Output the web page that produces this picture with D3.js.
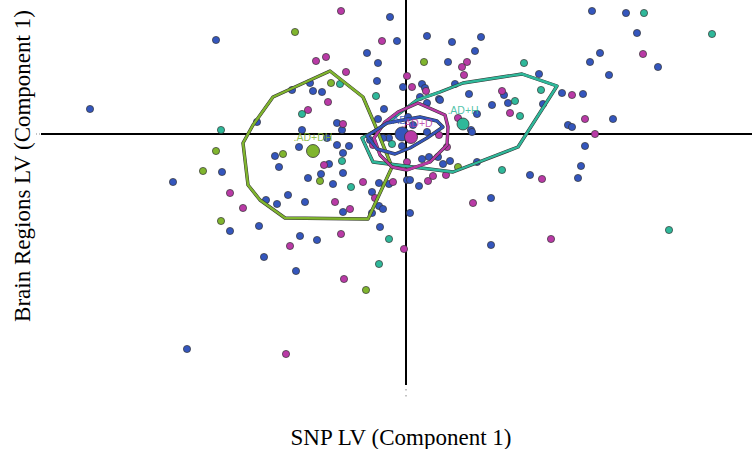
<!DOCTYPE html>
<html><head><meta charset="utf-8">
<script src="https://cdn.jsdelivr.net/npm/d3@7"></script>
<style>body{margin:0;background:#fff}svg{display:block}</style>
</head><body>
<svg id="c" width="752" height="449"></svg>
<script>
const groups = ["AD", "AD+D", "AD+H", "AD+DH"];
const colors = {"AD":"#3456bd","AD+D":"#b93aa6","AD+H":"#2fb89a","AD+DH":"#80b52e"};

const ptsAD = [[-3.16,0.25],[-1.90,0.94],[-0.16,1.17],[-0.09,0.93],[0.21,0.98],[0.46,0.92],[-0.39,0.81],[-0.28,0.71],[0.42,0.72],[-0.29,0.53],[-0.96,0.51],[-1.14,0.44],[-0.93,0.43],[-0.84,0.42],[-0.03,0.47],[0.16,0.50],[0.19,0.46],[0.14,0.37],[0.33,0.35],[0.49,0.50],[-0.22,0.25],[-1.49,0.12],[-0.69,0.11],[-1.04,0.04],[-0.28,0.15],[0.02,0.17],[0.07,0.09],[1.86,1.23],[2.20,1.21],[2.31,1.01],[0.75,0.97],[0.69,0.83],[1.94,0.81],[1.84,0.72],[2.52,0.67],[2.03,0.59],[1.33,0.60],[0.63,0.40],[0.98,0.39],[1.02,0.31],[0.86,0.29],[1.56,0.41],[1.77,0.40],[1.37,0.30],[0.71,0.20],[2.07,0.15],[1.62,0.09],[1.66,0.07],[0.34,0.34],[0.65,0.04],[1.79,-0.12],[1.75,-0.32],[1.72,-0.44],[1.24,-0.41],[0.85,-0.64],[0.85,-1.11],[0.71,-0.28],[0.44,-0.27],[0.37,-0.30],[-1.84,-0.38],[-2.33,-0.48],[-1.76,-0.97],[-1.47,-0.92],[-1.06,-1.02],[-0.89,-1.06],[-1.42,-1.23],[0.04,-0.79],[-1.07,-0.13],[-1.31,-0.22],[-1.27,-0.33],[-0.77,-0.30],[-0.63,-0.19],[-0.69,-0.11],[-0.57,-0.12],[-0.79,-0.04],[-0.85,-0.40],[-0.98,-0.44],[-0.63,-0.39],[-0.73,-0.50],[-0.27,-0.49],[-0.17,-0.50],[-0.34,-0.58],[-1.18,-0.61],[-1.40,-0.66],[-1.29,-0.70],[-1.01,-0.68],[-0.27,-0.72],[-0.23,-0.75],[-0.63,-0.78],[-0.34,-0.79],[-0.26,-0.93],[0.01,-0.46],[0.04,-0.46],[0.13,-0.52],[0.23,-0.23],[0.32,-0.23],[0.16,-0.25],[-1.10,-1.37],[-2.19,-2.15],[-0.64,0.04],[-0.17,-0.04],[-0.04,-0.12],[0.21,0.02],[0.66,0.02],[-0.36,-0.06],[-0.23,-0.04],[0.21,0.31]];
const ptsADD = [[-0.65,1.23],[-0.24,0.93],[-0.90,0.73],[-0.80,0.77],[-0.60,0.62],[0.01,0.58],[0.06,0.47],[0.20,0.43],[-0.78,0.32],[-0.98,0.24],[-0.63,0.10],[2.37,0.80],[0.61,0.72],[0.56,0.67],[0.58,0.59],[0.96,0.43],[1.66,0.39],[1.04,0.21],[1.79,0.15],[0.52,0.16],[1.89,0.00],[1.36,-0.45],[0.67,-0.69],[1.45,-1.05],[0.41,-0.13],[0.40,-0.41],[-1.76,-0.59],[-1.63,-0.74],[-0.65,-1.00],[-1.16,-1.12],[-0.02,-1.15],[-0.82,-0.31],[-0.43,-0.48],[-0.13,-0.48],[-0.71,-0.68],[-0.31,-0.64],[-0.56,-0.75],[0.22,-0.47],[0.27,-0.42],[-0.62,-1.45],[-1.20,-2.20],[0.01,-0.28],[0.33,-0.01],[-0.33,-0.11]];
const ptsADH = [[2.38,1.21],[3.06,1.00],[1.18,0.71],[1.35,0.44],[1.09,0.33],[1.14,0.18],[0.96,-0.36],[2.63,-0.96],[-0.66,0.50],[-0.30,0.38],[-1.04,0.20],[-1.85,0.04],[-0.64,-0.27],[-0.55,-0.53],[-0.17,-1.05],[-0.27,-1.30],[-0.14,-0.10]];
const ptsADDH = [[-1.11,1.02],[0.18,0.72],[-0.75,0.51],[-1.90,-0.17],[-2.03,-0.37],[-1.85,-0.87],[-1.23,-0.20],[-0.86,-0.47],[0.52,-0.33],[-0.40,-1.56]];

const hullAD = [[-0.39,-0.02],[-0.19,0.11],[0.14,0.17],[0.31,0.13],[0.37,0.07],[0.21,-0.04],[0.04,-0.14],[-0.11,-0.20],[-0.29,-0.15]];
const hullADD = [[-0.08,0.22],[0.12,0.31],[0.39,0.19],[0.42,0.07],[0.41,-0.11],[0.24,-0.28],[0.01,-0.36],[-0.14,-0.33],[-0.26,-0.21],[-0.32,-0.04],[-0.21,0.12]];
const hullADH = [[-0.44,-0.04],[-0.26,0.06],[0.11,0.34],[0.34,0.42],[0.57,0.51],[1.16,0.60],[1.51,0.48],[1.12,-0.13],[0.47,-0.38],[-0.33,-0.28]];
const hullADDH = [[-0.76,0.63],[-0.43,0.37],[-0.31,0.09],[-0.14,-0.33],[-0.38,-0.85],[-1.21,-0.84],[-1.46,-0.66],[-1.58,-0.51],[-1.63,-0.09],[-1.53,0.09],[-1.33,0.37]];

const means = {"AD":[-0.04,0.00],"AD+D":[0.05,-0.03],"AD+H":[0.57,0.10],"AD+DH":[-0.93,-0.17]};
const xTitle = "SNP LV (Component 1)";
const yTitle = "Brain Regions LV (Component 1)";

const pts = {"AD":ptsAD,"AD+D":ptsADD,"AD+H":ptsADH,"AD+DH":ptsADDH};
const hulls = {"AD":hullAD,"AD+D":hullADD,"AD+H":hullADH,"AD+DH":hullADDH};

const svg = d3.select("#c");
const x = d3.scaleLinear().domain([-3.65, 3.46]).range([41, 752]);
const y = d3.scaleLinear().domain([1.34, -2.51]).range([0, 385]);

// axes
svg.append("line").attr("x1", x(-3.65)).attr("x2", 752).attr("y1", y(0)).attr("y2", y(0))
  .attr("stroke", "#000").attr("stroke-width", 2);
svg.append("line").attr("x1", 36).attr("x2", x(-3.65)).attr("y1", y(0)).attr("y2", y(0))
  .attr("stroke", "#888").attr("stroke-width", 1).attr("stroke-dasharray", "1,2");
svg.append("line").attr("x1", x(0)).attr("x2", x(0)).attr("y1", y(1.34)).attr("y2", y(-2.51))
  .attr("stroke", "#000").attr("stroke-width", 2);
svg.append("line").attr("x1", x(0)).attr("x2", x(0)).attr("y1", y(-2.51)+4).attr("y2", y(-2.51)+14)
  .attr("stroke", "#888").attr("stroke-width", 1).attr("stroke-dasharray", "1.5,4.5");

// points
const order = ["AD","AD+D","AD+H","AD+DH"];
const allPts = [];
order.forEach(g => pts[g].forEach(p => allPts.push({g, p})));
svg.append("g").selectAll("circle").data(allPts).join("circle")
  .attr("cx", d => x(d.p[0])).attr("cy", d => y(d.p[1])).attr("r", 3.6)
  .attr("fill", d => colors[d.g]).attr("stroke", "#333").attr("stroke-width", 0.7);

// hulls
const line = d3.line().x(d => x(d[0])).y(d => y(d[1])).curve(d3.curveLinearClosed);
["AD+DH","AD+H","AD+D","AD"].forEach(g => {
  svg.append("path").attr("d", line(hulls[g])).attr("fill", "none")
    .attr("stroke", "#333").attr("stroke-width", 3.4).attr("stroke-linejoin", "round");
  svg.append("path").attr("d", line(hulls[g])).attr("fill", "none")
    .attr("stroke", colors[g]).attr("stroke-width", 2.4).attr("stroke-linejoin", "round");
});

// means
const meanR = {"AD":7,"AD+D":6.5,"AD+H":6,"AD+DH":6.5};
order.forEach(g => {
  svg.append("circle").attr("cx", x(means[g][0])).attr("cy", y(means[g][1])).attr("r", meanR[g])
    .attr("fill", colors[g]).attr("stroke", "#333").attr("stroke-width", 0.8);
});
const labelDx = {"AD":-4,"AD+D":6,"AD+H":0,"AD+DH":0};
order.forEach(g => {
  svg.append("text").attr("x", x(means[g][0]) + labelDx[g]).attr("y", y(means[g][1]) - 10)
    .attr("text-anchor", "middle").attr("font-family", "Liberation Sans, Arial, sans-serif")
    .attr("font-size", 10.5).attr("fill", colors[g]).attr("fill-opacity", 0.85).text("." + g);
});

// titles
svg.append("text").attr("x", 401).attr("y", 445).attr("text-anchor", "middle")
  .attr("font-family", "Liberation Serif, Times New Roman, serif").attr("font-size", 23).text(xTitle);
svg.append("text").attr("transform", "translate(30,166) rotate(-90)").attr("text-anchor", "middle")
  .attr("font-family", "Liberation Serif, Times New Roman, serif").attr("font-size", 23).text(yTitle);
</script>
</body></html>
